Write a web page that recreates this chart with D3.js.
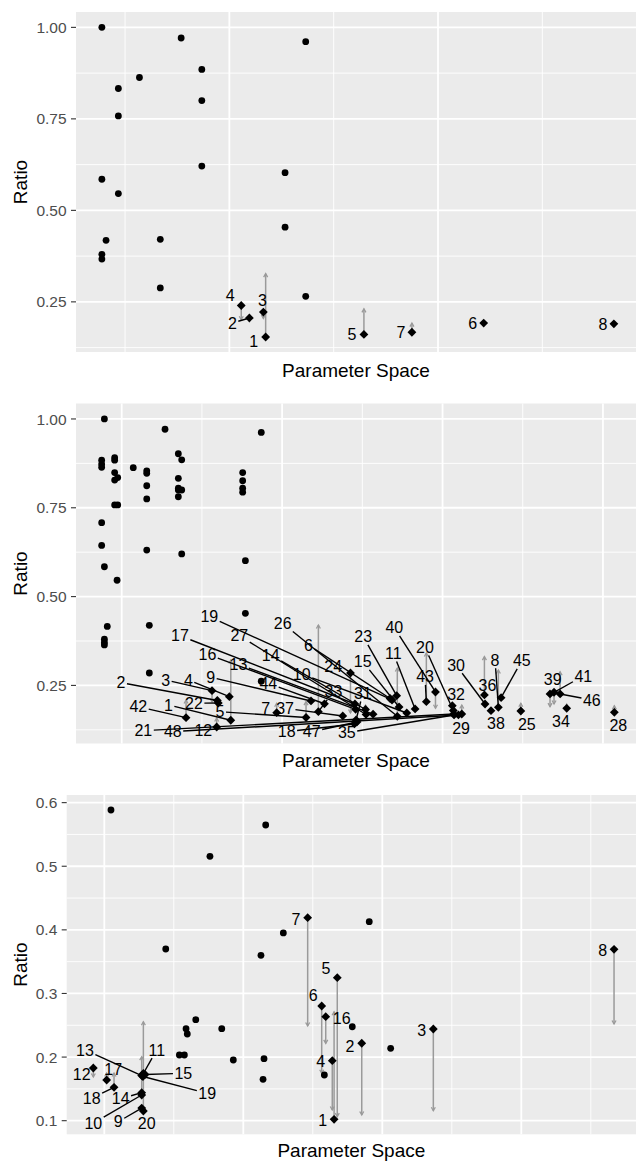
<!DOCTYPE html>
<html>
<head>
<meta charset="utf-8">
<script src="https://cdn.jsdelivr.net/npm/d3@7"></script>
<style>
  body { margin: 0; background: #fff; }
  text { font-family: "Liberation Sans", Arial, Helvetica, sans-serif; }
</style>
</head>
<body>
<div id="chart"></div>
<script>
// ---- panel 1 ----
const p1PointX = [38.9, 76.9, 136.6, 86.8, 56.9, 46.8, 86.8, 46.8, 86.8, 126.7, 38.9, 46.8, 126.7, 40.9, 66.9, 38.9, 38.9, 66.9, 136.6];
const p1PointY = [1.00, 0.971, 0.961, 0.885, 0.863, 0.833, 0.800, 0.758, 0.621, 0.603, 0.585, 0.546, 0.454, 0.418, 0.421, 0.380, 0.367, 0.288, 0.265];
const p1Id   = [1, 2, 3, 4, 5, 6, 7, 8];
const p1X    = [117.4, 109.6, 116.3, 105.7, 164.5, 221.9, 187.5, 284.3];
const p1Y    = [0.154, 0.206, 0.222, 0.240, 0.161, 0.192, 0.167, 0.190];
const p1Ref  = [0.327, 0.196, 0.205, 0.201, 0.231, null, 0.192, null];

// ---- panel 2 ----
const p2PointX = [87.5, 87.5, 87.5, 89.2, 95.6, 95.6, 95.6, 97.5, 95.6, 107.2, 115.6, 115.6, 115.6, 115.6, 127.0, 135.3, 137.4, 135.3, 135.3, 137.4, 135.3, 135.3, 137.4, 175.4, 175.4, 175.4, 175.4, 177.1, 177.1, 187.0, 95.6, 97.5, 87.5, 87.5, 115.6, 89.2, 97.1, 91.0, 89.2, 89.2, 89.2, 117.2, 117.2, 187.0];
const p2PointY = [0.884, 0.873, 0.864, 1.000, 0.891, 0.884, 0.849, 0.835, 0.828, 0.863, 0.854, 0.847, 0.812, 0.775, 0.971, 0.902, 0.885, 0.833, 0.805, 0.800, 0.800, 0.781, 0.620, 0.849, 0.826, 0.805, 0.794, 0.601, 0.453, 0.962, 0.758, 0.758, 0.708, 0.644, 0.631, 0.584, 0.546, 0.416, 0.380, 0.371, 0.364, 0.419, 0.285, 0.262];
const p2Id  = d3.range(1, 49);
const p2X   = [168.0, 159.6, 156.3, 167.1, 214.9, 267.3, 196.6, 334.8, 218.0, 277.7, 282.9, 159.2, 256.7, 252.0, 272.9, 245.8, 245.4, 245.1, 268.5, 306.7, 307.0, 160.2, 271.4, 242.6, 348.8, 271.8, 252.3, 407.1, 312.0, 326.5, 246.1, 306.1, 222.6, 377.4, 307.2, 326.1, 237.8, 330.2, 367.0, 295.6, 369.5, 140.1, 289.9, 226.4, 336.5, 373.3, 246.7, 309.9];
const p2Y   = [0.1519, 0.2076, 0.2352, 0.2183, 0.1597, 0.2132, 0.1732, 0.1884, 0.2062, 0.1724, 0.1837, 0.1330, 0.1690, 0.1822, 0.1893, 0.1828, 0.1977, 0.1415, 0.2090, 0.1794, 0.1696, 0.2005, 0.2211, 0.2850, 0.1780, 0.1631, 0.1682, 0.1743, 0.1696, 0.1977, 0.1527, 0.1929, 0.1760, 0.1856, 0.1668, 0.2231, 0.1640, 0.1788, 0.2259, 0.2315, 0.2307, 0.1592, 0.2042, 0.1983, 0.2155, 0.2259, 0.1471, 0.1668];
const p2Ref = [0.3216, null, 0.2033, null, 0.2042, null, 0.1997, 0.2934, null, null, null, 0.1584, null, 0.1949, null, null, null, null, null, null, null, null, null, 0.1724, 0.1997, 0.2991, null, 0.1929, 0.1949, null, null, null, 0.4201, 0.1977, null, 0.3309, null, null, 0.1901, 0.1856, 0.1977, 0.2090, 0.3413, null, null, 0.2886, null, null];

// ---- panel 3 ----
const p3PointX = [104.8, 216.1, 176.0, 228.8, 212.7, 144.2, 165.8, 158.8, 159.7, 184.5, 154.0, 157.6, 192.8, 214.9, 214.2, 290.6, 278.4, 258.3, 306.0];
const p3PointY = [0.5884, 0.5648, 0.5156, 0.3951, 0.3600, 0.3699, 0.2588, 0.2446, 0.2363, 0.2446, 0.2033, 0.2033, 0.1954, 0.1975, 0.1651, 0.4128, 0.2477, 0.1718, 0.2138];
const p3Id  = d3.range(1, 21);
const p3X   = [265.3, 285.2, 336.7, 264.0, 267.6, 256.4, 246.3, 466.7, 126.9, 126.9, 128.1, 92.1, 126.9, 126.9, 129.3, 259.3, 101.7, 107.0, 127.8, 128.1];
const p3Y   = [0.1022, 0.2217, 0.2441, 0.1943, 0.3248, 0.2803, 0.4191, 0.3694, 0.1199, 0.1404, 0.1742, 0.1828, 0.1710, 0.1440, 0.1726, 0.2635, 0.1640, 0.1525, 0.1694, 0.1152];
const p3Ref = [0.2713, 0.1089, 0.1157, 0.1168, 0.1063, 0.1745, 0.2488, 0.2520, null, null, null, 0.1686, null, 0.2006, null, 0.2216, 0.1750, 0.1750, null, 0.2556];

// label placement (pixel offsets from each diamond, as a repel step would put them)
const p1Nudge = [[-12,4],[-17,5],[-1,-12],[-11,-10],[-12,0],[-11,0],[-11,0],[-11,0]];
const p2Nudge = [[-62.4,-15.3],[-96.3,-17.8],[-46.3,-10.7],[-41,-16.7],[-86,-5.8],[-81.7,-53.5],[-11,-4.4],[-3.3,-47.3],[-100.3,-23.7],[-105,-39],
  [-21.7,-55.7],[-13.4,3.7],[-134.7,-49.9],[-94.8,-54.5],[-36.3,-45.3],[-148.2,-55],[-175,-68.3],[-67.8,7.7],[-182.7,-83.3],[-28.3,-63.2],
  [-310.4,16.7],[-24.3,0.3],[-33.4,-59],[-17.2,-6.3],[6,13.3],[-114.6,-93],[-126.7,-78.8],[4,13.4],[-0.7,14.3],[-29,-39],
  [6.7,-26.7],[3.7,-11.7],[15,-20],[-5.7,13.4],[-107.3,17.7],[3,-10],[-57.7,-7.7],[5,12.6],[2.7,-14.7],[-41.2,-64.3],
  [29.3,-16.3],[-47.7,-11],[-1.3,-25],[-56.2,-20.5],[20.7,-37],[31.7,6],[-45.3,9.7],[-285.6,16.7]];
const p3Nudge = [[-11.3,0.7],[-11.7,3.4],[-11.6,1],[-11.6,1],[-11.3,-9.4],[-8.4,-11],[-11.7,1.3],[-11.3,1.4],[-23.4,13.7],[-48.4,28.3],
  [13.4,-23.5],[-11.6,6],[-56.7,-25.5],[-21,6],[38.3,-1.2],[16,1.6],[6.6,-10.7],[-22.3,11],[64.3,16.8],[3.4,12.3]];

const W = 636, H = 1161;
const svg = d3.select('#chart').append('svg')
  .attr('width', W)
  .attr('height', H);

const panels = [
  { left: 76, right: 636, top: 12, bottom: 352, xDomain: [26.5, 294.9], xMajor: [100, 200], xMinor: [50, 150, 250],
    yDomain: [0.113, 1.042], yMajor: [0.25, 0.5, 0.75, 1.0], yMinor: [0.125, 0.375, 0.625, 0.875], fmt: '.2f', titleY: 376.5,
    px: p1PointX, py: p1PointY, id: p1Id, dx: p1X, dy: p1Y, ref: p1Ref, nudge: p1Nudge },
  { left: 76, right: 636, top: 403.5, bottom: 743.5, xDomain: [71.5, 420.6], xMajor: [100, 200, 300, 400], xMinor: [150, 250, 350],
    yDomain: [0.0865, 1.0435], yMajor: [0.25, 0.5, 0.75, 1.0], yMinor: [0.125, 0.375, 0.625, 0.875], fmt: '.2f', titleY: 766.7,
    px: p2PointX, py: p2PointY, id: p2Id, dx: p2X, dy: p2Y, ref: p2Ref, nudge: p2Nudge },
  { left: 66.7, right: 636, top: 795, bottom: 1134.3, xDomain: [72.95, 482.5], xMajor: [100, 200, 300, 400], xMinor: [150, 250, 350, 450],
    yDomain: [0.0786, 0.612], yMajor: [0.1, 0.2, 0.3, 0.4, 0.5, 0.6], yMinor: [0.15, 0.25, 0.35, 0.45, 0.55], fmt: '.1f', titleY: 1157,
    px: p3PointX, py: p3PointY, id: p3Id, dx: p3X, dy: p3Y, ref: p3Ref, nudge: p3Nudge }
];

const labelSize = 16;
const grey = '#9a9a9a';

const drawPanel = (cfg) => {
  const x = d3.scaleLinear().domain(cfg.xDomain).range([cfg.left, cfg.right]);
  const y = d3.scaleLinear().domain(cfg.yDomain).range([cfg.bottom, cfg.top]);
  const g = svg.append('g');

  g.append('rect')
    .attr('x', cfg.left).attr('y', cfg.top)
    .attr('width', cfg.right - cfg.left).attr('height', cfg.bottom - cfg.top)
    .attr('fill', '#EBEBEB');

  // grid
  g.selectAll('.ymin').data(cfg.yMinor).enter().append('line')
    .attr('x1', cfg.left).attr('x2', cfg.right)
    .attr('y1', d => y(d)).attr('y2', d => y(d))
    .attr('stroke', '#fff').attr('stroke-width', 0.9);
  g.selectAll('.xmin').data(cfg.xMinor).enter().append('line')
    .attr('y1', cfg.top).attr('y2', cfg.bottom)
    .attr('x1', d => x(d)).attr('x2', d => x(d))
    .attr('stroke', '#fff').attr('stroke-width', 0.9);
  g.selectAll('.ymaj').data(cfg.yMajor).enter().append('line')
    .attr('x1', cfg.left).attr('x2', cfg.right)
    .attr('y1', d => y(d)).attr('y2', d => y(d))
    .attr('stroke', '#fff').attr('stroke-width', 1.8);
  g.selectAll('.xmaj').data(cfg.xMajor).enter().append('line')
    .attr('y1', cfg.top).attr('y2', cfg.bottom)
    .attr('x1', d => x(d)).attr('x2', d => x(d))
    .attr('stroke', '#fff').attr('stroke-width', 1.8);

  // y axis
  const fmt = d3.format(cfg.fmt);
  g.selectAll('.tick').data(cfg.yMajor).enter().append('line')
    .attr('x1', cfg.left - 5).attr('x2', cfg.left)
    .attr('y1', d => y(d)).attr('y2', d => y(d))
    .attr('stroke', '#333').attr('stroke-width', 1.1);
  g.selectAll('.tlab').data(cfg.yMajor).enter().append('text')
    .attr('x', cfg.left - 9.4).attr('y', d => y(d)).attr('dy', '0.36em')
    .attr('text-anchor', 'end')
    .style('font-size', '15.5px').attr('fill', '#4D4D4D')
    .text(d => fmt(d));

  // titles
  g.append('text')
    .attr('x', (cfg.left + cfg.right) / 2).attr('y', cfg.titleY)
    .attr('text-anchor', 'middle').style('font-size', '19px')
    .text('Parameter Space');
  g.append('text')
    .attr('transform', `translate(26.5, ${(cfg.top + cfg.bottom) / 2}) rotate(-90)`)
    .attr('text-anchor', 'middle').style('font-size', '19px')
    .text('Ratio');

  const marks = cfg.id.map((id, i) => ({
    id, x: x(cfg.dx[i]), y: y(cfg.dy[i]),
    ref: cfg.ref[i] == null ? null : y(cfg.ref[i]),
    lx: x(cfg.dx[i]) + cfg.nudge[i][0], ly: y(cfg.dy[i]) + cfg.nudge[i][1]
  }));

  // grey reference arrows
  const arrows = marks.filter(d => d.ref != null && Math.abs(d.ref - d.y) > 1);
  g.selectAll('.seg').data(arrows).enter().append('line')
    .attr('x1', d => d.x).attr('x2', d => d.x)
    .attr('y1', d => d.y).attr('y2', d => d.ref)
    .attr('stroke', grey).attr('stroke-width', 1.5);
  g.selectAll('.head').data(arrows).enter().append('path')
    .attr('d', d => {
      const s = d.ref < d.y ? 1 : -1;
      return `M${d.x - 2},${d.ref + s * 3.5}L${d.x},${d.ref}L${d.x + 2},${d.ref + s * 3.5}`;
    })
    .attr('fill', 'none').attr('stroke', grey).attr('stroke-width', 1.3);

  // circles
  g.selectAll('.pt').data(cfg.px).enter().append('circle')
    .attr('cx', d => x(d)).attr('cy', (d, i) => y(cfg.py[i]))
    .attr('r', 3.4).attr('fill', '#000');

  // diamonds
  const r = 4.4;
  g.selectAll('.dm').data(marks).enter().append('path')
    .attr('d', d => `M${d.x},${d.y - r}L${d.x + r},${d.y}L${d.x},${d.y + r}L${d.x - r},${d.y}Z`)
    .attr('fill', '#000');

  // leader segments
  marks.forEach(d => {
    const hw = String(d.id).length * 0.556 * labelSize / 2 + 1.5;
    const hh = labelSize * 0.42 + 1.5;
    const ddx = d.x - d.lx, ddy = d.y - d.ly;
    const dist = Math.hypot(ddx, ddy);
    const t = Math.min(ddx ? hw / Math.abs(ddx) : Infinity, ddy ? hh / Math.abs(ddy) : Infinity);
    if (t >= 1 || dist * (1 - t) < 8) return;
    g.append('line')
      .attr('x1', d.lx + ddx * t).attr('y1', d.ly + ddy * t)
      .attr('x2', d.x).attr('y2', d.y)
      .attr('stroke', '#000').attr('stroke-width', 1.4);
  });

  g.selectAll('.lab').data(marks).enter().append('text')
    .attr('x', d => d.lx).attr('y', d => d.ly).attr('dy', '0.36em')
    .attr('text-anchor', 'middle')
    .style('font-size', labelSize + 'px')
    .text(d => d.id);
};

panels.forEach(drawPanel);
</script>
</body>
</html>
